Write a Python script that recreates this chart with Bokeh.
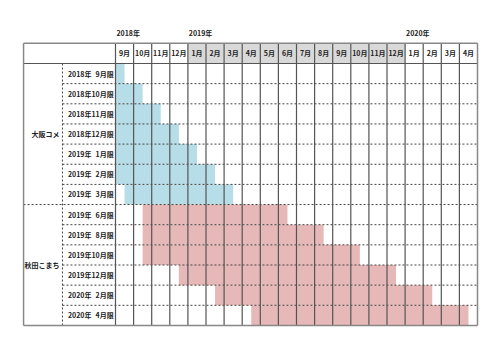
from bokeh.plotting import figure
from bokeh.models import Range1d, ColumnDataSource
from bokeh.core.properties import value
from bokeh.embed import file_html
from bokeh.resources import INLINE

# ---- data ----
month_labels = ["9月", "10月", "11月", "12月", "1月", "2月", "3月", "4月", "5月", "6月",
                "7月", "8月", "9月", "10月", "11月", "12月", "1月", "2月", "3月", "4月"]
month_years = [2018] * 4 + [2019] * 12 + [2020] * 4
year_labels = ["2018年", "2019年", "2020年"]
year_start_idx = [0, 4, 16]

row_labels = ["2018年\u20079月限", "2018年10月限", "2018年11月限", "2018年12月限",
              "2019年\u20071月限", "2019年\u20072月限", "2019年\u20073月限",
              "2019年\u20076月限", "2019年\u20078月限", "2019年10月限", "2019年12月限",
              "2020年\u20072月限", "2020年\u20074月限"]
groups = ["大阪コメ", "秋田こまち"]
group_sizes = [7, 6]
# bar start / end in month-index units (0 = Sep 2018 column start)
bar_start = [0, 0, 0, 0, 0, 0, 0.5, 1.5, 1.5, 1.5, 3.5, 5.5, 7.5]
bar_end = [0.5, 1.5, 2.5, 3.5, 4.5, 5.5, 6.5, 9.5, 11.5, 13.5, 15.5, 17.5, 19.5]
group_colors = ["#b7dde8", "#e6b8b7"]

# ---- layout constants ----
W, H = 500, 352
CW, RH = 18.1, 20.15          # px per month column, px per row
X0_PX, Y0_PX = 115, 63        # pixel location of x=0, y=0
LEFT = -5.08                  # outer left edge (month units)
MID = -2.93                   # dashed divider between group and row labels
NM = len(month_labels)
NR = len(row_labels)
FONT = value("Noto Sans CJK JP")

p = figure(width=W, height=H, output_backend="svg", toolbar_location=None,
           x_range=Range1d(-X0_PX / CW, (W - X0_PX) / CW),
           y_range=Range1d((H - Y0_PX) / RH, -Y0_PX / RH),
           min_border=0, outline_line_color=None)
p.axis.visible = False
p.grid.visible = False
p.background_fill_color = "white"

# header backgrounds
hdr_fill = ["#d9d9d9" if y == 2019 else "white" for y in month_years]
p.quad(left=list(range(NM)), right=[i + 1 for i in range(NM)], top=[-1] * NM, bottom=[0] * NM,
       fill_color=hdr_fill, line_color=None)

# bars
colors = []
for g, n in enumerate(group_sizes):
    colors += [group_colors[g]] * n
src = ColumnDataSource(dict(left=bar_start, right=bar_end,
                            top=list(range(NR)), bottom=[r + 1 for r in range(NR)], color=colors))
p.quad(left="left", right="right", top="top", bottom="bottom", fill_color="color",
       line_color=None, source=src)

# horizontal dashed lines between rows
bounds = []
acc = 0
for n in group_sizes:
    acc += n
    bounds.append(acc)
hx0, hx1, hy = [], [], []
for r in range(1, NR):
    hx0.append(LEFT if r in bounds else MID)
    hx1.append(NM)
    hy.append(r)
p.segment(x0=hx0, x1=hx1, y0=hy, y1=hy, line_color="#444444", line_width=1, line_dash="2 2")
# dashed vertical divider
p.segment(x0=[MID], x1=[MID], y0=[0], y1=[NR], line_color="#444444", line_width=1, line_dash="2 2")

# vertical month lines
p.segment(x0=list(range(NM)), x1=list(range(NM)), y0=[-1] * NM, y1=[NR] * NM,
          line_color="#555555", line_width=1.2)
# header bottom line
p.segment(x0=[LEFT], x1=[NM], y0=[0], y1=[0], line_color="#555555", line_width=1.2)
# outer border
p.segment(x0=[LEFT, NM, LEFT, LEFT], x1=[LEFT, NM, NM, NM], y0=[-1, -1, -1, NR], y1=[NR, NR, -1, NR],
          line_color="#888888", line_width=1.5)

# month header labels
p.text(x=[i + 0.5 for i in range(NM)], y=[-0.5] * NM, text=month_labels,
       text_font=FONT, text_font_size="7px", text_font_style="bold",
       text_align="center", text_baseline="middle", text_color="#222222")

# year labels
p.text(x=[i + 0.05 for i in year_start_idx], y=[-1.5] * 3, text=year_labels,
       text_font=FONT, text_font_size="7px", text_font_style="bold",
       text_align="left", text_baseline="middle", text_color="#222222")

# row labels
p.text(x=[-0.1] * NR, y=[r + 0.5 for r in range(NR)], text=row_labels,
       text_font=FONT, text_font_size="7px", text_font_style="bold",
       text_align="right", text_baseline="middle", text_color="#222222")

# group labels
gy = []
acc = 0
for n in group_sizes:
    gy.append(acc + n / 2)
    acc += n
p.text(x=[MID - 0.17] * len(groups), y=gy, text=groups,
       text_font=FONT, text_font_size="7px", text_font_style="bold",
       text_align="right", text_baseline="middle", text_color="#222222")

open("out.html", "w").write(file_html(p, INLINE))
